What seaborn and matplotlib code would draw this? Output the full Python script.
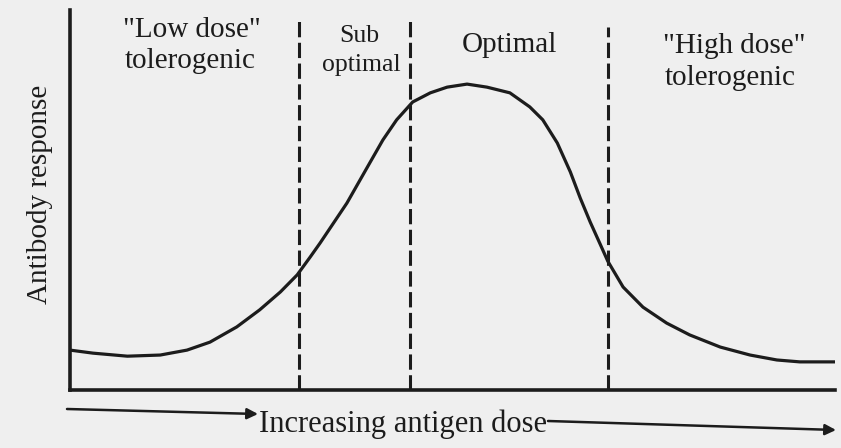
import numpy as np
import pandas as pd
import seaborn as sns
import matplotlib.pyplot as plt

# antigen dose (arbitrary units, 0-100) and antibody response (0-100)
dose = [0, 3.0, 7.5, 11.8, 15.3, 18.3, 21.8, 24.8, 27.5, 29.7, 31.4, 32.7, 36.2, 38.8,
        40.9, 42.7, 44.8, 47.1, 49.3, 51.9, 54.5, 57.5, 60.1, 61.8, 63.7, 65.4,
        66.7, 68.0, 69.3, 70.3, 72.3, 74.9, 78.0, 81.0, 85.0, 88.9, 92.4, 95.4, 100]
response = [10.5, 9.7, 8.9, 9.2, 10.5, 12.6, 16.6, 21.1, 25.8, 30.3, 35.0, 38.7, 49.2, 58.4,
            65.8, 71.1, 75.8, 78.2, 79.7, 80.5, 79.7, 78.2, 74.5, 71.1, 65.0, 57.4,
            50.5, 44.2, 38.4, 33.9, 27.1, 21.8, 17.6, 14.5, 11.3, 9.2, 7.9, 7.4, 7.4]

# dose boundaries between the regions
boundaries = [29.9, 44.4, 70.3]

table = pd.DataFrame({'dose': dose, 'response': response})

sns.set_style('white')
plt.rcParams['font.family'] = ['Liberation Serif', 'DejaVu Serif']

ink = '#1c1c1c'
bg = '#efefef'

fig = plt.figure(figsize=(8.41, 4.48), dpi=100, facecolor=bg)
ax = fig.add_axes([70 / 841, 58 / 448, 765 / 841, 380 / 448])
ax.set_facecolor(bg)

sns.lineplot(data=table, x='dose', y='response', color=ink, linewidth=2.3,
             estimator=None, ax=ax, solid_joinstyle='round', solid_capstyle='round')

for b, top in zip(boundaries, [0.972, 0.975, 0.955]):
    ax.axvline(b, ymin=0, ymax=top, color=ink, linewidth=2.2, linestyle=(0, (5, 1.8)))

ax.set_xlim(0, 100)
ax.set_ylim(0, 100)
ax.set_xticks([])
ax.set_yticks([])
ax.set_xlabel('')
ax.set_ylabel('')
sns.despine(ax=ax)
for s in ['left', 'bottom']:
    ax.spines[s].set_linewidth(2.6)
    ax.spines[s].set_color(ink)

fs = 21
# region labels
ax.text(15.9, 92.9, '"Low dose"', ha='center', va='baseline', fontsize=fs, color=ink)
ax.text(15.7, 84.7, 'tolerogenic', ha='center', va='baseline', fontsize=fs, color=ink)
ax.text(37.8, 91.6, 'Sub', ha='center', va='baseline', fontsize=18.5, color=ink)
ax.text(38.1, 83.9, 'optimal', ha='center', va='baseline', fontsize=18.5, color=ink)
ax.text(57.5, 88.9, 'Optimal', ha='center', va='baseline', fontsize=fs, color=ink)
ax.text(86.8, 88.7, '"High dose"', ha='center', va='baseline', fontsize=fs, color=ink)
ax.text(86.3, 80.3, 'tolerogenic', ha='center', va='baseline', fontsize=fs, color=ink)

# axis titles
fig.text(40 / 841, 1 - 194 / 448, 'Antibody response', rotation=90,
         ha='center', va='center', fontsize=fs, color=ink)
fig.text(403 / 841, 1 - 424 / 448, 'Increasing antigen dose',
         ha='center', va='center', fontsize=22, color=ink)

# arrows either side of the x title (pixel coords of the scan)
arrow = dict(arrowstyle='-|>', color=ink, lw=1.8, mutation_scale=16, shrinkA=0, shrinkB=0)
ax.annotate('', xy=(258 / 841, 1 - 414 / 448), xytext=(67 / 841, 1 - 409 / 448),
            xycoords='figure fraction', textcoords='figure fraction', arrowprops=arrow)
ax.annotate('', xy=(836 / 841, 1 - 430 / 448), xytext=(548 / 841, 1 - 421 / 448),
            xycoords='figure fraction', textcoords='figure fraction', arrowprops=arrow)

plt.savefig('out.png', dpi=100, facecolor=bg)
